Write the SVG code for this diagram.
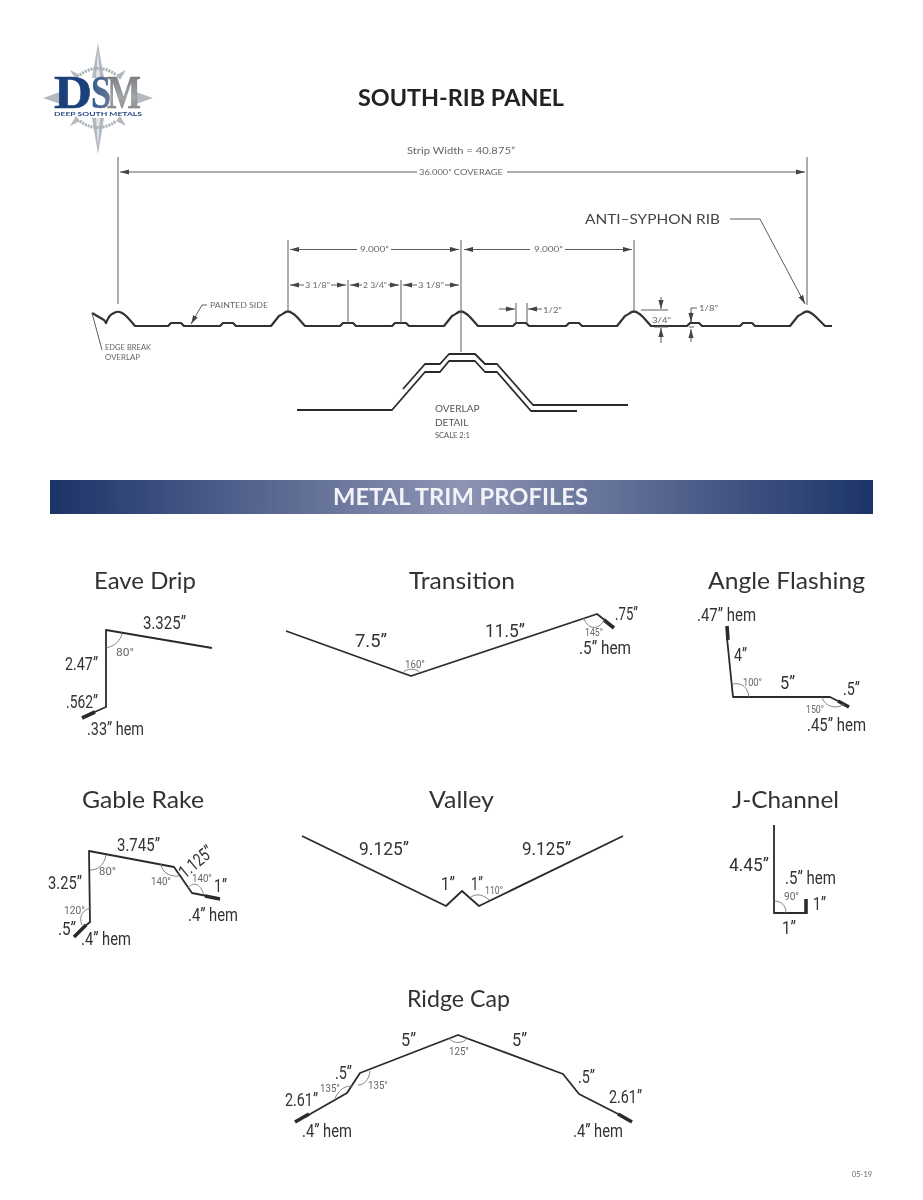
<svg xmlns="http://www.w3.org/2000/svg" width="923" height="1200" viewBox="0 0 923 1200">
<style>
.bg{fill:#fff}
.p{fill:none;stroke:#2b2b2b;stroke-width:1.8;stroke-linejoin:round}
.pr{fill:none;stroke:#333;stroke-width:2.2;stroke-linejoin:round}
.hem{fill:none;stroke:#2b2b2b;stroke-width:3.6}
.d{fill:none;stroke:#5c5c5c;stroke-width:1}
.a{fill:none;stroke:#777;stroke-width:.9}
.de{marker-end:url(#ae)}
text{font-family:"Lato","Open Sans","Liberation Sans",sans-serif}
.title{font-size:23px;fill:#333}
.dt{font-size:8.5px;fill:#666}
.dts{font-size:7px;fill:#666}
.l{font-family:"Roboto","Liberation Sans",sans-serif;font-size:18px;fill:#333}
.an{font-family:"Roboto","Liberation Sans",sans-serif;font-size:10.500px;fill:#666}
.lg{font-family:"Liberation Serif",serif;font-weight:700;font-size:46px}
</style>
<defs>
<marker id="ae" markerUnits="userSpaceOnUse" markerWidth="10" markerHeight="6" refX="9" refY="3" orient="auto"><path d="M0 .4 9 3 0 5.6z" fill="#444"/></marker>
<linearGradient id="band"><stop offset="0" stop-color="#1c3468"/><stop offset=".5" stop-color="#8d94b4"/><stop offset="1" stop-color="#1c3468"/></linearGradient>
<linearGradient id="sg"><stop offset="0" stop-color="#33598f"/><stop offset="1" stop-color="#6f7c8c"/></linearGradient>
<linearGradient id="mg" x1="0" y1="0" x2="0" y2="1"><stop offset="0" stop-color="#6b6e72"/><stop offset=".6" stop-color="#a3a6a9"/><stop offset="1" stop-color="#77797c"/></linearGradient>
<filter id="soft" x="0" y="0" width="100%" height="100%"><feGaussianBlur stdDeviation=".5"/></filter>
</defs>
<rect class="bg" width="923" height="1200"/>
<g filter="url(#soft)">

<g id="logo">
<path d="M98 43 104 78H92ZM92 118H104L98 154ZM43 98 60 92V104ZM153 98 136 92V104Z" fill="#b3b9c0"/>
<path d="M98 50 100 78H96ZM96 118H100L98 148Z" fill="#e4e7ea"/>
<path d="M70 70 80 75 76 80ZM126 70 116 75 120 80ZM70 126 80 121 76 116ZM126 126 116 121 120 116Z" fill="#b3b9c0"/>
<path d="M80 75A28 28 0 0 1 116 75M80 121A28 28 0 0 0 116 121" fill="none" stroke="#a8aeb5" stroke-width="3" stroke-dasharray="2 1"/>
<text class="lg" x="54" y="108" fill="#1d3f7c" stroke="#1d3f7c" stroke-width=".6" textLength="38" lengthAdjust="spacingAndGlyphs">D</text>
<text class="lg" x="91" y="108" fill="url(#sg)" stroke="#33598f" stroke-width=".4" textLength="20" lengthAdjust="spacingAndGlyphs">S</text>
<text class="lg" x="107" y="108" fill="url(#mg)" stroke="#77797c" stroke-width=".4" textLength="34" lengthAdjust="spacingAndGlyphs">M</text>
<text x="54" y="115.500" font-size="5" font-weight="700" fill="#2a4a85" textLength="88" lengthAdjust="spacingAndGlyphs">DEEP SOUTH METALS</text>
</g>

<g id="panel-title"><text x="358" y="106" font-size="22" font-weight="700" fill="#222" textLength="206" lengthAdjust="spacingAndGlyphs">SOUTH-RIB PANEL</text></g>

<g id="panel-profile">
<path class="pr" d="M92 313 104 320 106 323Q109 315 113 313.500Q118 310 123 313.500Q126 315 135 326H168L171 323H181L184 326H220L223 323H233L236 326H271L279 316Q283 314 284 313Q288 310 292 313Q294 314 297 317L305 326H340L343 323H353L356 326H392L395 323H406L409 326H444L452 316Q456 314 457 313Q461 310 465 313Q467 314 470 317L478 326H513L516 323H526L529 326H566L569 323H579L582 326H617L625 316Q629 314 630 313Q634 310 638 313Q640 314 643 317L651 326H687L690 323H699L702 326H740L743 323H752L755 326H790L798 316Q802 314 803 313Q807 310 811 313Q813 314 816 317L825 326H832"/>
</g>

<g id="overlap-detail">
<path class="p" d="M297 410H392L425 372H440L449 361H475L485 372H497L531 411H577"/>
<path class="p" d="M403 389 425 364H440L449 354H475L485 364H497L533 405H628"/>
<text x="435" y="412" font-size="10" fill="#555">OVERLAP</text>
<text x="435" y="426" font-size="10" fill="#555">DETAIL</text>
<text x="435" y="438" font-size="7.500" fill="#555">SCALE 2:1</text>
</g>

<g id="connectors">
<path class="d" d="M118 157V304M807 157V305M288 240V311M461 240V352M634 240V311M348 280V323M401 280V323M516 303V323M527 303V323"/>
<path class="d de" d="M417 172H120"/>
<path class="d de" d="M507 172H805"/>
<path class="d de" d="M357 249.500H290"/>
<path class="d de" d="M391 249.500H459"/>
<path class="d de" d="M530 249.500H464"/>
<path class="d de" d="M565 249.500H632"/>
<path class="d de" d="M304 285H290"/><path class="d de" d="M331 285H346"/>
<path class="d de" d="M362 285H350"/><path class="d de" d="M388 285H399"/>
<path class="d de" d="M417 285H403"/><path class="d de" d="M445 285H459"/>
<path class="d de" d="M499 309H515"/><path class="d de" d="M542 309H528"/>
<path class="d" d="M641 310H668M654 327H668"/>
<path class="d de" d="M661 297V309"/><path class="d de" d="M661 343V328"/>
<path class="d" d="M691 322V308H697M689 327H694"/>
<path class="d de" d="M691 312V322"/><path class="d de" d="M691 342V329"/>
<path class="d de" d="M730 219H760L805 304"/>
<path class="d de" d="M207 305H202L191 324"/>
<path class="d" d="M92 313 102 350"/>
</g>

<g id="panel-labels">
<text class="dt" x="407" y="154" textLength="108" lengthAdjust="spacingAndGlyphs">Strip Width = 40.875”</text>
<text class="dts" x="419" y="175" textLength="84" lengthAdjust="spacingAndGlyphs">36.000” COVERAGE</text>
<text class="dts" x="360" y="252" textLength="29" lengthAdjust="spacingAndGlyphs">9.000”</text>
<text class="dts" x="534" y="252" textLength="29" lengthAdjust="spacingAndGlyphs">9.000”</text>
<text class="dts" x="305" y="288" textLength="25" lengthAdjust="spacingAndGlyphs">3 1/8”</text>
<text class="dts" x="363" y="288" textLength="24" lengthAdjust="spacingAndGlyphs">2 3/4”</text>
<text class="dts" x="418" y="288" textLength="26" lengthAdjust="spacingAndGlyphs">3 1/8”</text>
<text class="dts" x="543" y="313" textLength="19" lengthAdjust="spacingAndGlyphs">1/2”</text>
<text class="dts" x="652" y="323" textLength="19" lengthAdjust="spacingAndGlyphs">3/4”</text>
<text class="dts" x="699" y="311" textLength="19" lengthAdjust="spacingAndGlyphs">1/8”</text>
<text x="585" y="224" font-size="14" fill="#444" textLength="135" lengthAdjust="spacingAndGlyphs">ANTI–SYPHON RIB</text>
<text class="dts" x="210" y="308" textLength="58" lengthAdjust="spacingAndGlyphs">PAINTED SIDE</text>
<text class="dts" x="105" y="350" textLength="46" lengthAdjust="spacingAndGlyphs">EDGE BREAK</text>
<text class="dts" x="105" y="360" textLength="35" lengthAdjust="spacingAndGlyphs">OVERLAP</text>
</g>

<g id="band"><rect x="50" y="480" width="823" height="34" fill="url(#band)"/><text x="333" y="505" font-size="22" font-weight="700" fill="#f2f3f7" textLength="255" lengthAdjust="spacingAndGlyphs">METAL TRIM PROFILES</text></g>

<g id="eave-drip">
<text class="title" x="94" y="589" textLength="102" lengthAdjust="spacingAndGlyphs">Eave Drip</text>
<path class="p" d="M212 648 106 630V707L90 714"/><path class="hem" d="M82 718 95 712"/>
<path class="a" d="M106 648C115 646 120 641 122 634"/>
<text class="l" x="143" y="629" textLength="43" lengthAdjust="spacingAndGlyphs">3.325”</text>
<text class="l" x="65" y="670" textLength="33" lengthAdjust="spacingAndGlyphs">2.47”</text>
<text class="l" x="66" y="708" textLength="32" lengthAdjust="spacingAndGlyphs">.562”</text>
<text class="l" x="87" y="735" textLength="57" lengthAdjust="spacingAndGlyphs">.33” hem</text>
<text class="an" x="116" y="656" textLength="18" lengthAdjust="spacingAndGlyphs">80°</text>
</g>

<g id="transition">
<text class="title" x="409" y="589" textLength="106" lengthAdjust="spacingAndGlyphs">Transition</text>
<path class="p" d="M286 631 411 676 597 614 606 621"/><path class="hem" d="M604 620 614 628"/>
<path class="a" d="M403 673C405 668 418 668 420 673M584 618C586 628 598 632 604 620"/>
<text class="l" x="355" y="647" textLength="32" lengthAdjust="spacingAndGlyphs">7.5”</text>
<text class="l" x="485" y="637" textLength="40" lengthAdjust="spacingAndGlyphs">11.5”</text>
<text class="an" x="405" y="668" textLength="20" lengthAdjust="spacingAndGlyphs">160°</text>
<text class="an" x="585" y="636" textLength="18" lengthAdjust="spacingAndGlyphs">145°</text>
<text class="l" x="615" y="620" textLength="23" lengthAdjust="spacingAndGlyphs">.75”</text>
<text class="l" x="579" y="654" textLength="52" lengthAdjust="spacingAndGlyphs">.5” hem</text>
</g>

<g id="angle-flashing">
<text class="title" x="708" y="589" textLength="157" lengthAdjust="spacingAndGlyphs">Angle Flashing</text>
<path class="p" d="M727 638 733 697H830L840 702"/><path class="hem" d="M727 626 728 640M838 701 849 707"/>
<path class="a" d="M733 684C742 682 748 688 749 697M822 697C825 708 838 709 844 704"/>
<text class="l" x="697" y="621" textLength="59" lengthAdjust="spacingAndGlyphs">.47” hem</text>
<text class="l" x="734" y="661" textLength="13" lengthAdjust="spacingAndGlyphs">4”</text>
<text class="an" x="743" y="686" textLength="19" lengthAdjust="spacingAndGlyphs">100°</text>
<text class="l" x="780" y="689" textLength="15" lengthAdjust="spacingAndGlyphs">5”</text>
<text class="l" x="843" y="695" textLength="17" lengthAdjust="spacingAndGlyphs">.5”</text>
<text class="an" x="806" y="713" textLength="18" lengthAdjust="spacingAndGlyphs">150°</text>
<text class="l" x="807" y="731" textLength="59" lengthAdjust="spacingAndGlyphs">.45” hem</text>
</g>

<g id="gable-rake">
<text class="title" x="82" y="808" textLength="122" lengthAdjust="spacingAndGlyphs">Gable Rake</text>
<path class="p" d="M84 927 90 922 89 851 174 867 192 893 207 896"/><path class="hem" d="M205 896 220 899M74 937 86 925"/>
<path class="a" d="M90 870C97 870 104 866 106 855M161 864C162 873 170 877 179 876M188 888C192 882 200 882 204 895M90 908C84 910 78 915 82 925"/>
<text class="l" x="117" y="851" textLength="43" lengthAdjust="spacingAndGlyphs">3.745”</text>
<text class="l" transform="translate(185 879) rotate(-40)" textLength="39" lengthAdjust="spacingAndGlyphs">1.125”</text>
<text class="an" x="151" y="885" textLength="20" lengthAdjust="spacingAndGlyphs">140°</text>
<text class="an" x="192" y="882" textLength="20" lengthAdjust="spacingAndGlyphs">140°</text>
<text class="l" x="214" y="892" textLength="13" lengthAdjust="spacingAndGlyphs">1”</text>
<text class="l" x="188" y="921" textLength="50" lengthAdjust="spacingAndGlyphs">.4” hem</text>
<text class="l" x="48" y="889" textLength="34" lengthAdjust="spacingAndGlyphs">3.25”</text>
<text class="an" x="64" y="914" textLength="21" lengthAdjust="spacingAndGlyphs">120°</text>
<text class="l" x="58" y="935" textLength="18" lengthAdjust="spacingAndGlyphs">.5”</text>
<text class="l" x="81" y="945" textLength="50" lengthAdjust="spacingAndGlyphs">.4” hem</text>
<text class="an" x="99" y="875" textLength="17" lengthAdjust="spacingAndGlyphs">80°</text>
</g>

<g id="valley">
<text class="title" x="429" y="808" textLength="65" lengthAdjust="spacingAndGlyphs">Valley</text>
<path class="p" d="M302 836 446 906 462 891 479 906 623 836"/>
<path class="a" d="M471 897C477 893 484 895 489 900"/>
<text class="l" x="359" y="855" textLength="50" lengthAdjust="spacingAndGlyphs">9.125”</text>
<text class="l" x="522" y="855" textLength="49" lengthAdjust="spacingAndGlyphs">9.125”</text>
<text class="l" x="441" y="890" textLength="14" lengthAdjust="spacingAndGlyphs">1”</text>
<text class="l" x="471" y="890" textLength="12" lengthAdjust="spacingAndGlyphs">1”</text>
<text class="an" x="485" y="894" textLength="18" lengthAdjust="spacingAndGlyphs">110°</text>
</g>

<g id="j-channel">
<text class="title" x="732" y="808" textLength="107" lengthAdjust="spacingAndGlyphs">J-Channel</text>
<path class="p" d="M774 825V913H806"/><path class="hem" d="M806 914V899"/>
<path class="a" d="M774 901C782 901 786 906 786 913"/>
<text class="l" x="729" y="871" textLength="40" lengthAdjust="spacingAndGlyphs">4.45”</text>
<text class="l" x="785" y="884" textLength="51" lengthAdjust="spacingAndGlyphs">.5” hem</text>
<text class="an" x="784" y="900" textLength="15" lengthAdjust="spacingAndGlyphs">90°</text>
<text class="l" x="813" y="910" textLength="13" lengthAdjust="spacingAndGlyphs">1”</text>
<text class="l" x="782" y="934" textLength="14" lengthAdjust="spacingAndGlyphs">1”</text>
</g>

<g id="ridge-cap">
<text class="title" x="407" y="1007" textLength="103" lengthAdjust="spacingAndGlyphs">Ridge Cap</text>
<path class="p" d="M305 1117 347 1093 360 1073 458 1035 563 1074 579 1094 622 1116"/><path class="hem" d="M295 1122 309 1114M618 1114 632 1122"/>
<path class="a" d="M449 1038C452 1044 464 1044 467 1038M335 1098C340 1088 346 1086 352 1086M358 1085C364 1085 369 1080 370 1071"/>
<text class="l" x="401" y="1046" textLength="15" lengthAdjust="spacingAndGlyphs">5”</text>
<text class="l" x="512" y="1046" textLength="15" lengthAdjust="spacingAndGlyphs">5”</text>
<text class="an" x="449" y="1055" textLength="20" lengthAdjust="spacingAndGlyphs">125°</text>
<text class="l" x="335" y="1079" textLength="17" lengthAdjust="spacingAndGlyphs">.5”</text>
<text class="an" x="320" y="1092" textLength="20" lengthAdjust="spacingAndGlyphs">135°</text>
<text class="an" x="368" y="1089" textLength="20" lengthAdjust="spacingAndGlyphs">135°</text>
<text class="l" x="285" y="1106" textLength="33" lengthAdjust="spacingAndGlyphs">2.61”</text>
<text class="l" x="578" y="1083" textLength="17" lengthAdjust="spacingAndGlyphs">.5”</text>
<text class="l" x="609" y="1103" textLength="33" lengthAdjust="spacingAndGlyphs">2.61”</text>
<text class="l" x="302" y="1137" textLength="50" lengthAdjust="spacingAndGlyphs">.4” hem</text>
<text class="l" x="573" y="1137" textLength="50" lengthAdjust="spacingAndGlyphs">.4” hem</text>
</g>

<g id="footer"><text x="852" y="1177" font-size="7" fill="#666" textLength="20" lengthAdjust="spacingAndGlyphs">05-19</text></g>
</g>
</svg>
